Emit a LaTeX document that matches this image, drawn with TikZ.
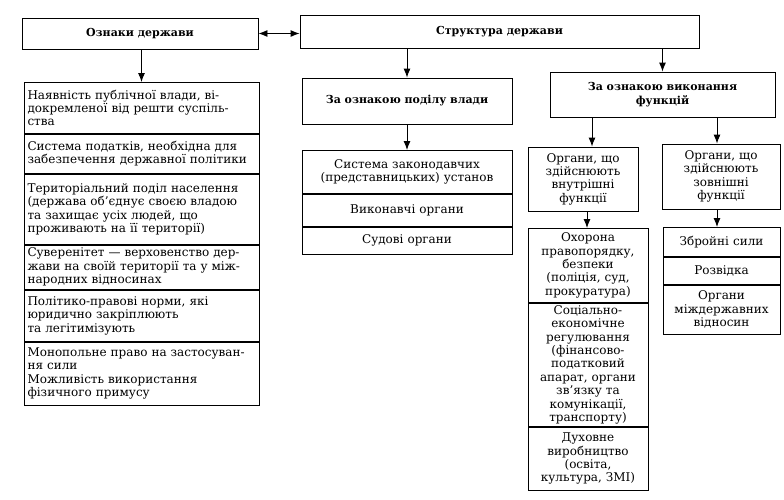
\documentclass[tikz,border=0pt]{standalone}
\usepackage{fontspec}
\setmainfont{DejaVu Serif}
\usetikzlibrary{arrows.meta,positioning}
\newcommand{\arr}[2]{\path (#1.south -| #2.north) edge (#2.north); }
\newcommand{\rw}[5]{\node[#1,minimum height=#4] (#2) [below=0pt of #3] {#5}; }

\begin{document}
\begin{tikzpicture}[x=1pt,y=-1pt,->,>={Latex[length=9pt,width=7pt]},line width=0.9pt,
  every node/.style={font=\fontsize{12}{13.4}\selectfont},
  head/.style={draw,font=\fontsize{11}{13.6}\selectfont\bfseries,align=center,inner sep=2pt},
  lft/.style={draw,text width=228pt,minimum width=235pt,align=left,inner xsep=3.5pt,inner ysep=0pt},
  mid/.style={draw,text width=204pt,minimum width=210pt,align=center,inner sep=1pt},
  inn/.style={draw,text width=116pt,minimum width=120pt,align=center,inner sep=1pt},
  zov/.style={draw,text width=113pt,minimum width=117pt,align=center,inner sep=1pt}]
  \useasboundingbox (0,0) rectangle (784,499);
  \fill[white] (0,0) rectangle (784,499);
  % headings
  \node[head,minimum width=236pt,minimum height=31pt] (priz) at (140,33.5) {Ознаки держави};
  \node[head,minimum width=399pt,minimum height=33pt] (str) at (499.5,31.5) {Структура держави};
  \node[head,minimum width=210pt,minimum height=46pt] (pod) at (407,101) {За ознакою поділу влади};
  \node[head,minimum width=225pt,minimum height=45pt] (vyk) at (662.5,94.5) {За ознакою виконання\\функцій};
  \node[draw,align=center,minimum width=110pt,minimum height=64pt,inner sep=1pt] (vnut) at (583,179)
    {Органи, що\\здійснюють\\внутрішні\\функції};
  \node[draw,align=center,minimum width=118pt,minimum height=65pt,inner sep=1pt] (zovn) at (721,176.5)
    {Органи, що\\здійснюють\\зовнішні\\функції};
  % ознаки
  \node[lft,minimum height=51pt,anchor=north] (p1) at (141.5,82)
    {Наявність публічної влади, ві-\\докремленої від решти суспіль-\\ства};
  \rw{lft}{p2}{p1}{39pt}{Система податків, необхідна для\\забезпечення державної політики}
  \rw{lft}{p3}{p2}{70pt}{Територіальний поділ населення\\(держава об’єднує своєю владою\\та захищає усіх людей, що\\проживають на її території)}
  \rw{lft}{p4}{p3}{44pt}{Суверенітет — верховенство дер-\\жави на своїй території та у між-\\народних відносинах}
  \rw{lft}{p5}{p4}{51pt}{Політико-правові норми, які\\юридично закріплюють\\та легітимізують}
  \rw{lft}{p6}{p5}{63pt}{Монопольне право на застосуван-\\ня сили\\Можливість використання\\фізичного примусу}
  % поділ влади
  \node[mid,minimum height=43pt,anchor=north] (g1) at (407,150)
    {Система законодавчих\\(представницьких) установ};
  \rw{mid}{g2}{g1}{32pt}{Виконавчі органи}
  \rw{mid}{g3}{g2}{27pt}{Судові органи}
  % внутрішні
  \node[inn,minimum height=74pt,anchor=north] (v1) at (588,228)
    {Охорона\\правопорядку,\\безпеки\\(поліція, суд,\\прокуратура)};
  \rw{inn}{v2}{v1}{123pt}{Соціально-\\економічне\\регулювання\\(фінансово-\\податковий\\апарат, органи\\зв’язку та\\комунікації,\\транспорту)}
  \rw{inn}{v3}{v2}{63pt}{Духовне\\виробництво\\(освіта,\\культура, ЗМІ)}
  % зовнішні
  \node[zov,minimum height=29pt,anchor=north] (z1) at (721.5,227) {Збройні сили};
  \rw{zov}{z2}{z1}{27pt}{Розвідка}
  \rw{zov}{z3}{z2}{49pt}{Органи\\міждержавних\\відносин}
  % arrows
  \path[<->] (priz.east) edge (priz.east -| str.west);
  \arr{priz}{p1}
  \arr{str}{pod}
  \arr{str}{vyk}
  \arr{pod}{g1}
  \path ([xshift=9pt]vyk.south -| vnut.north) edge ([xshift=9pt]vnut.north);
  \path ([xshift=-4pt]vyk.south -| zovn.north) edge ([xshift=-4pt]zovn.north);
  \path ([xshift=4pt]vnut.south) edge ([xshift=4pt]vnut.south |- v1.north);
  \path ([xshift=-4pt]zovn.south) edge ([xshift=-4pt]zovn.south |- z1.north);
\end{tikzpicture}
\end{document}
